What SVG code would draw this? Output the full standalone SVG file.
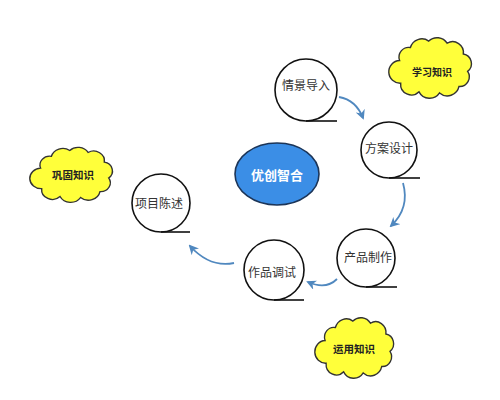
<svg xmlns="http://www.w3.org/2000/svg" width="500" height="400" viewBox="0 0 500 400">
<style>
.node circle{fill:#fff;stroke:#111;stroke-width:1.6}
.node line{stroke:#111;stroke-width:1.6}
.lbl{font-family:"Noto Sans CJK SC","Noto Sans",sans-serif;font-size:12px;fill:#333;text-anchor:middle;dominant-baseline:central}
.cl{font-family:"Noto Sans CJK SC","Noto Sans",sans-serif;font-size:10.5px;font-weight:bold;fill:#222;text-anchor:middle;dominant-baseline:central}
.cloud{fill:#ffff3a;stroke:#333;stroke-width:1.3}
.conn path{fill:none;stroke:#5088bf;stroke-width:1.8;marker-end:url(#ah)}
</style>
<defs>
<marker id="ah" viewBox="0 0 10 10" refX="8" refY="5" markerWidth="5.5" markerHeight="5.5" orient="auto" markerUnits="strokeWidth">
<path d="M0,0 L10,5 L0,10 L3,5 Z" fill="#5088bf"/>
</marker>
<path id="cloudShape" d="M -30,-6 A 9 9 0 0 1 -20,-18 A 11 11 0 0 1 -3,-24 A 11 11 0 0 1 14,-22 A 10 10 0 0 1 29,-12 A 9 9 0 0 1 33,4 A 9 9 0 0 1 25,18 A 11 11 0 0 1 7,24 A 11 11 0 0 1 -12,23 A 10 10 0 0 1 -29,15 A 9 9 0 0 1 -30,-6 Z"/>
</defs>
<rect width="500" height="400" fill="#fff"/>
<g class="conn">
<path d="M339,97 Q356,100 363,118"/>
<path d="M403,183 Q410,208 391,226"/>
<path d="M337,279 Q326,290 308,282"/>
<path d="M234,263 Q210,268 190,246"/>
</g>
<g id="n-center">
<ellipse cx="277" cy="174" rx="42" ry="31" fill="#3b8ee6" stroke="#1c3558" stroke-width="1.6"/>
<text x="277" y="174" font-family="'Noto Sans CJK SC','Noto Sans',sans-serif" font-size="13" font-weight="bold" fill="#fff" text-anchor="middle" dominant-baseline="central">优创智合</text>
</g>
<g id="n-qingjing" class="node">
<circle cx="306" cy="90" r="31"/>
<line x1="306" y1="121" x2="337" y2="121"/>
<text class="lbl" x="306" y="84">情景导入</text>
</g>
<g id="n-fangan" class="node">
<circle cx="389" cy="150" r="28"/>
<line x1="389" y1="178" x2="420" y2="178"/>
<text class="lbl" x="389" y="147">方案设计</text>
</g>
<g id="n-chanpin" class="node">
<circle cx="366" cy="258" r="29"/>
<line x1="366" y1="287" x2="397" y2="287"/>
<text class="lbl" x="368" y="256">产品制作</text>
</g>
<g id="n-zuopin" class="node">
<circle cx="274" cy="270" r="30"/>
<line x1="274" y1="300" x2="304" y2="300"/>
<text class="lbl" x="272" y="271">作品调试</text>
</g>
<g id="n-xiangmu" class="node">
<circle cx="161" cy="203" r="29"/>
<line x1="161" y1="232" x2="190" y2="232"/>
<text class="lbl" x="159" y="202">项目陈述</text>
</g>
<g id="c-xuexi">
<use href="#cloudShape" class="cloud" transform="translate(432,67) scale(1.08,1.08)"/>
<text class="cl" x="432" y="71" style="font-size:10px">学习知识</text>
</g>
<g id="c-gonggu">
<use href="#cloudShape" class="cloud" transform="translate(73,174) scale(1.08,0.98)"/>
<text class="cl" x="73" y="174">巩固知识</text>
</g>
<g id="c-yunyong">
<use href="#cloudShape" class="cloud" transform="translate(356,347) scale(1.03,1.08)"/>
<text class="cl" x="354" y="348">运用知识</text>
</g>
</svg>
